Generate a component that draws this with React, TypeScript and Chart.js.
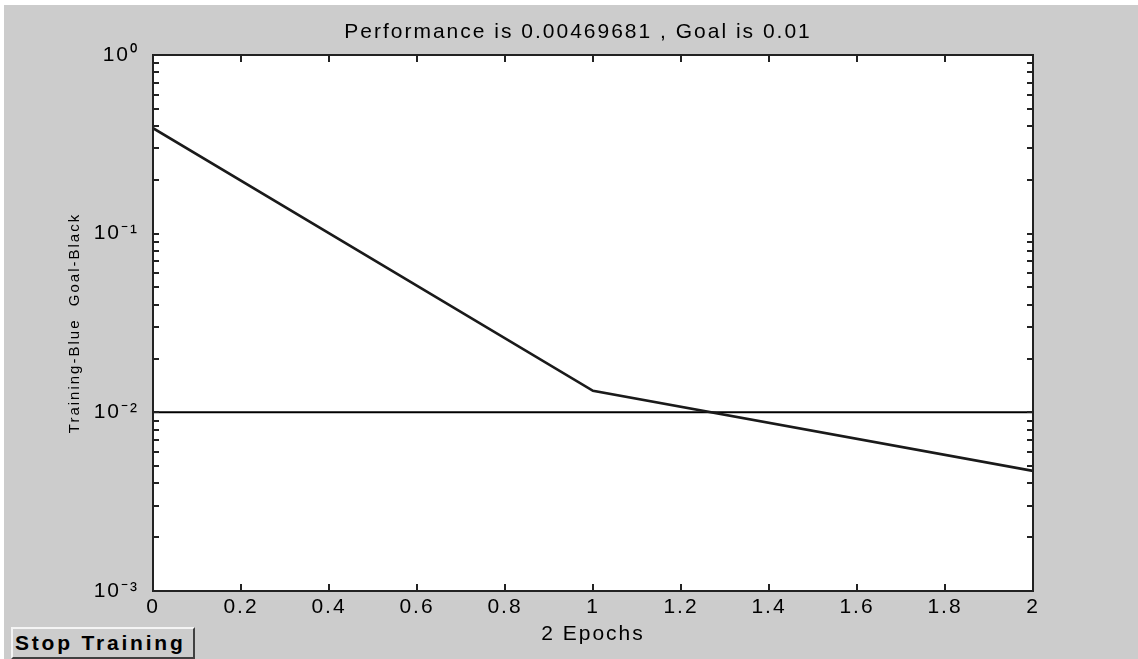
import { useEffect, useRef } from 'react';
import { Chart, registerables } from 'chart.js';

Chart.register(...registerables);

// ---- data ----
const epochs = [0, 1, 2];
const trainingPerformance = [0.39, 0.0132, 0.00469681];
const goalEpochs = [0, 2];
const goalValues = [0.01, 0.01];
const xTickValues = [0, 0.2, 0.4, 0.6, 0.8, 1, 1.2, 1.4, 1.6, 1.8, 2];
const xTickLabels = ['0', '0.2', '0.4', '0.6', '0.8', '1', '1.2', '1.4', '1.6', '1.8', '2'];
const yTickValues = [0.001, 0.01, 0.1, 1];
const yTickLabels = ['10⁻³', '10⁻²', '10⁻¹', '10⁰'];
const titleText = 'Performance is 0.00469681 , Goal is 0.01';
const xTitleText = '2 Epochs';
const yTitleText = 'Training-Blue  Goal-Black';
const buttonText = 'Stop Training';

const FONT = '"Liberation Sans", Arial, sans-serif';
const SPACING = '2px';
const AXIS_COLOR = '#222';

const decorPlugin = {
  id: 'decor',
  beforeUpdate(chart: any) {
    chart.ctx.letterSpacing = SPACING;
  },
  beforeLayout(chart: any) {
    chart.ctx.letterSpacing = SPACING;
  },
  afterLayout(chart: any) {
    const tb = chart.titleBlock;
    if (tb) {
      tb.left = 119;
    }
  },
  beforeDraw(chart: any) {
    const { ctx, chartArea: a } = chart;
    ctx.letterSpacing = SPACING;
    ctx.save();
    ctx.fillStyle = '#ffffff';
    ctx.fillRect(a.left, a.top, a.right - a.left, a.bottom - a.top);
    ctx.restore();
  },
  afterDatasetsDraw(chart: any) {
    const { ctx, chartArea: a, scales } = chart;
    const xs = scales.x;
    const ys = scales.y;
    ctx.save();
    ctx.strokeStyle = AXIS_COLOR;
    ctx.lineWidth = 2;
    ctx.beginPath();
    const xl = 7;
    for (const v of xTickValues) {
      const px = Math.round(xs.getPixelForValue(v));
      ctx.moveTo(px, a.bottom);
      ctx.lineTo(px, a.bottom - xl);
      ctx.moveTo(px, a.top);
      ctx.lineTo(px, a.top + xl);
    }
    const yl = 6;
    const minExp = Math.round(Math.log10(yTickValues[0]));
    const maxExp = Math.round(Math.log10(yTickValues[yTickValues.length - 1]));
    for (let e = minExp; e < maxExp; e++) {
      for (let m = 1; m <= 9; m++) {
        const py = Math.round(ys.getPixelForValue(m * Math.pow(10, e)));
        ctx.moveTo(a.left, py);
        ctx.lineTo(a.left + yl, py);
        ctx.moveTo(a.right, py);
        ctx.lineTo(a.right - yl, py);
      }
    }
    ctx.stroke();
    ctx.strokeRect(a.left, a.top, a.right - a.left, a.bottom - a.top);
    ctx.restore();
  },
};

export default function App() {
  const ref = useRef<HTMLCanvasElement>(null);

  useEffect(() => {
    const canvas = ref.current;
    if (!canvas) return;
    const chart = new Chart(canvas, {
      type: 'line',
      data: {
        datasets: [
          {
            label: 'Training',
            data: epochs.map((x, i) => ({ x, y: trainingPerformance[i] })),
            borderColor: '#1a1a1a',
            borderWidth: 2.7,
            pointRadius: 0,
            tension: 0,
            fill: false,
          },
          {
            label: 'Goal',
            data: goalEpochs.map((x, i) => ({ x, y: goalValues[i] })),
            borderColor: '#000000',
            borderWidth: 2,
            pointRadius: 0,
            tension: 0,
            fill: false,
          },
        ],
      },
      options: {
        responsive: false,
        animation: false,
        devicePixelRatio: 1,
        layout: { padding: { left: 0, right: 105, top: 0, bottom: 0 } },
        plugins: {
          legend: { display: false },
          tooltip: { enabled: false },
          title: {
            display: true,
            text: titleText,
            color: '#000',
            font: { family: FONT, size: 21, weight: 'normal' },
            padding: { top: 15, bottom: 9.8 },
          },
        },
        scales: {
          x: {
            type: 'linear',
            min: 0,
            max: 2,
            grid: { display: false, drawTicks: false },
            border: { display: false },
            afterBuildTicks: (scale: any) => {
              scale.ticks = xTickValues.map((v) => ({ value: v }));
            },
            afterFit: (scale: any) => {
              scale.height = 68;
            },
            ticks: {
              autoSkip: false,
              maxRotation: 0,
              padding: 4,
              color: '#000',
              font: { family: FONT, size: 21 },
              callback: (_v: any, i: number) => xTickLabels[i],
            },
            title: {
              display: true,
              text: xTitleText,
              color: '#000',
              font: { family: FONT, size: 21 },
              padding: { top: 0, bottom: 12 },
            },
          },
          y: {
            type: 'logarithmic',
            min: 0.001,
            max: 1,
            grid: { display: false, drawTicks: false },
            border: { display: false },
            afterBuildTicks: (scale: any) => {
              scale.ticks = yTickValues.map((v) => ({ value: v }));
            },
            afterFit: (scale: any) => {
              scale.width = 149;
            },
            ticks: {
              autoSkip: false,
              padding: 14,
              color: '#000',
              font: { family: FONT, size: 21 },
              callback: (_v: any, i: number) => yTickLabels[i],
            },
            title: {
              display: true,
              text: yTitleText,
              color: '#000',
              font: { family: FONT, size: 15 },
              padding: { top: 62, bottom: 0 },
            },
          },
        },
      },
      plugins: [decorPlugin],
    } as any);
    return () => chart.destroy();
  }, []);

  return (
    <div
      style={{
        position: 'absolute',
        left: 0,
        top: 0,
        width: 1138,
        height: 659,
        background: '#ffffff',
        overflow: 'hidden',
      }}
    >
      <div
        style={{
          position: 'absolute',
          left: 4,
          top: 5,
          width: 1134,
          height: 654,
          background: '#cccccc',
        }}
      >
        <canvas ref={ref} width={1134} height={654} style={{ display: 'block' }} />
        <button
          style={{
            position: 'absolute',
            left: 7,
            top: 622,
            width: 184,
            height: 32,
            margin: 0,
            padding: '0 0 0 2px',
            boxSizing: 'border-box',
            background: '#cccccc',
            borderStyle: 'solid',
            borderWidth: 2,
            borderColor: '#f4f4f4 #404040 #404040 #f4f4f4',
            fontFamily: FONT,
            fontWeight: 'bold',
            fontSize: 21,
            letterSpacing: '2.8px',
            color: '#000',
            textAlign: 'left',
            whiteSpace: 'nowrap',
            lineHeight: '28px',
          }}
        >
          {buttonText}
        </button>
      </div>
    </div>
  );
}
